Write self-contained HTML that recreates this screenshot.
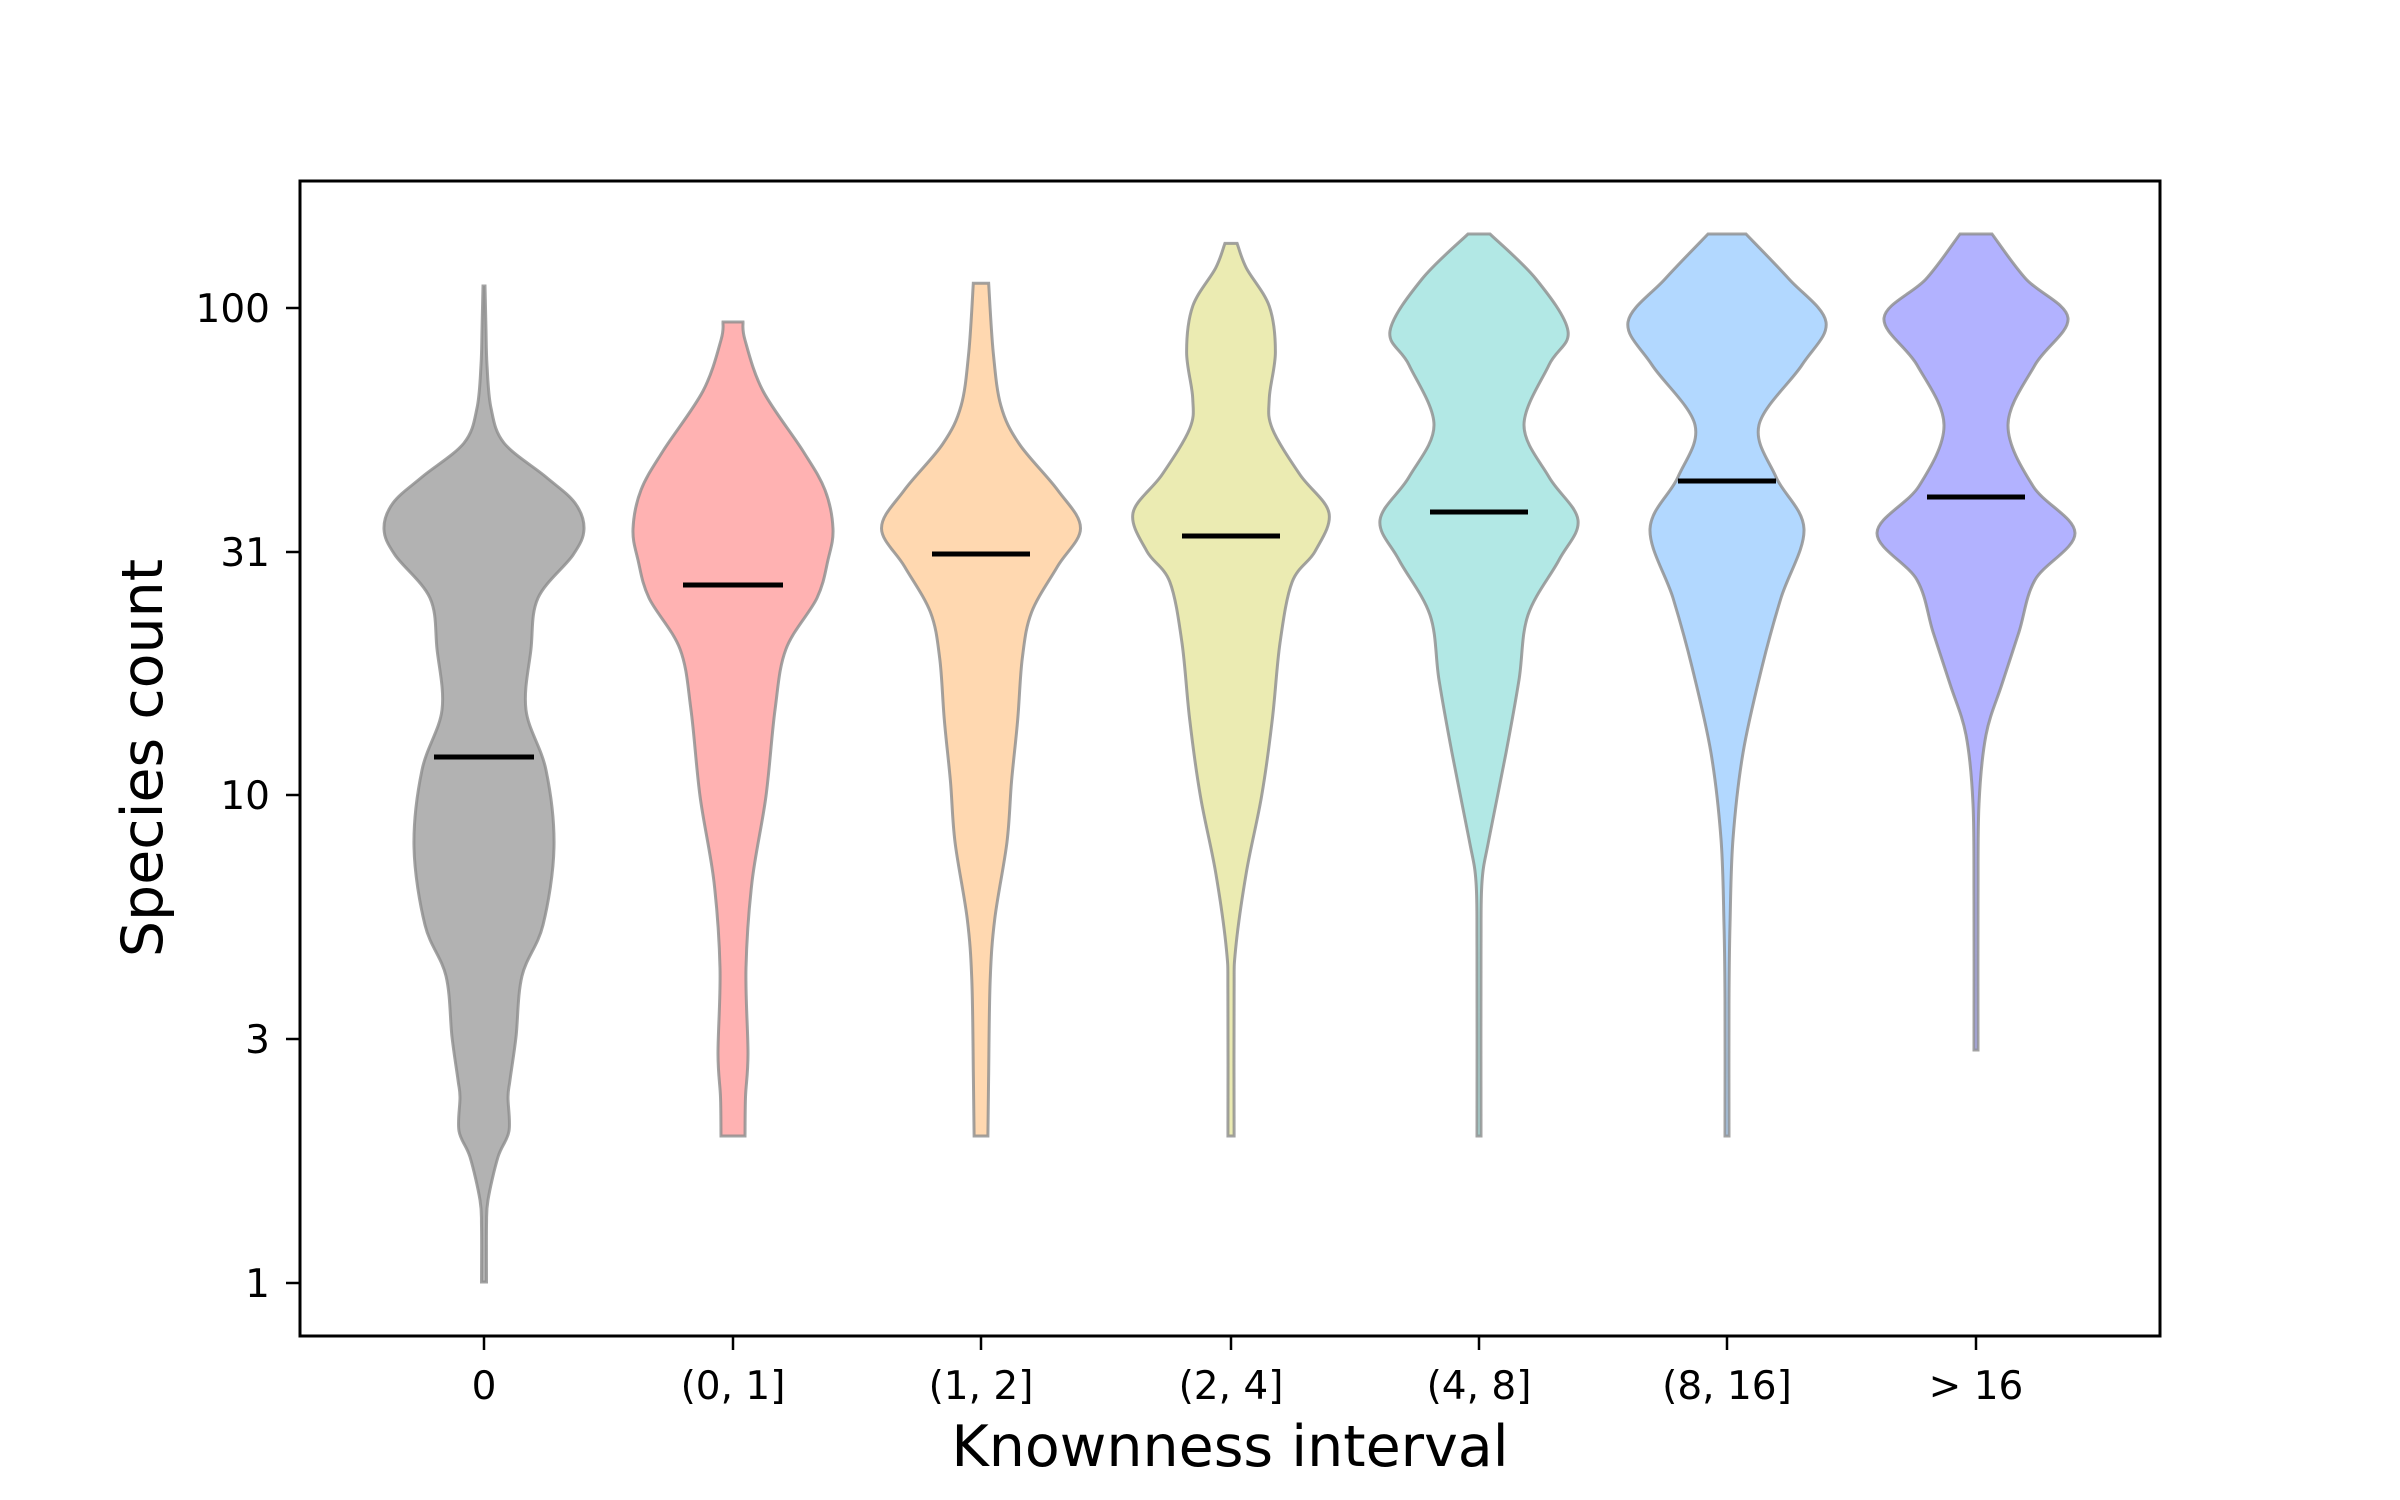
<!DOCTYPE html>
<html><head><meta charset="utf-8"><style>
html,body{margin:0;padding:0;background:#fff;}
svg{display:block;}
text{font-family:"DejaVu Sans","Liberation Sans",sans-serif;fill:#000;}
</style></head><body>
<svg id="s" width="2400" height="1500" viewBox="0 0 2400 1500" xmlns="http://www.w3.org/2000/svg">
<rect width="2400" height="1500" fill="#fff"/>
<g id="v"></g>
<rect x="300" y="181" width="1860" height="1155" fill="none" stroke="#000" stroke-width="3"/>
<g stroke="#000" stroke-width="2.5">
<line x1="286" y1="308" x2="300" y2="308"/>
<line x1="286" y1="552" x2="300" y2="552"/>
<line x1="286" y1="795" x2="300" y2="795"/>
<line x1="286" y1="1039" x2="300" y2="1039"/>
<line x1="286" y1="1283" x2="300" y2="1283"/>
<line x1="484" y1="1336" x2="484" y2="1350"/>
<line x1="733" y1="1336" x2="733" y2="1350"/>
<line x1="981" y1="1336" x2="981" y2="1350"/>
<line x1="1231" y1="1336" x2="1231" y2="1350"/>
<line x1="1479" y1="1336" x2="1479" y2="1350"/>
<line x1="1727" y1="1336" x2="1727" y2="1350"/>
<line x1="1976" y1="1336" x2="1976" y2="1350"/>
</g>
<g font-size="39" text-anchor="end">
<text x="270" y="322">100</text>
<text x="270" y="566">31</text>
<text x="270" y="809">10</text>
<text x="270" y="1053">3</text>
<text x="270" y="1297">1</text>
</g>
<g font-size="39" text-anchor="middle">
<text x="484" y="1399">0</text>
<text x="733" y="1399">(0, 1]</text>
<text x="981" y="1399">(1, 2]</text>
<text x="1231" y="1399">(2, 4]</text>
<text x="1479" y="1399">(4, 8]</text>
<text x="1727" y="1399">(8, 16]</text>
<text x="1976" y="1399">&gt; 16</text>
</g>
<text x="1230" y="1466" font-size="57" text-anchor="middle">Knownness interval</text>
<text transform="translate(162,758) rotate(-90)" font-size="57" text-anchor="middle">Species count</text>
</svg>
<script>
var D=1.531;
function dp(a){return a.map(function(p){return [p[0]*D,p[1]*D];});}
var V=[
{c:484,f:"#b2b2b2",m:[757,50],p:[[286,1],[330,2],[365,3],[408,7],[443,20],[477,62],[503,91],[529,100],[555,89],[598,54],[649,47],[710,42],[770,62],[847,70],[925,59],[976,38],[1037,32],[1080,26],[1097,24],[1131,25],[1157,14],[1200,4],[1226,2.5],[1282,2.5]]},
{c:733,f:"#ffb2b2",m:[585,50],p:[[322,10],[340,12],[391,30],[451,70],[490,92],[529,100],[560,95],[598,84],[649,53],[710,42],[796,33],[882,19],[968,13],[1054,15],[1097,12.5],[1136,12]]},
{c:981,f:"#ffd8b0",m:[554,49],p:dp([[185,5],[230,8],[265,13],[290,25],[320,50],[345,65],[370,50],[400,33],[430,27],[470,24],[510,20],[550,17],[600,9],[640,6],[700,5],[742,4.5]])},
{c:1231,f:"#ebebb2",m:[536,49],p:dp([[159,4],[175,10],[200,25],[230,29],[260,25],[280,27],[310,45],[335,64],[360,55],[380,40],[420,32],[470,27],[520,20],[570,10],[620,3],[650,2],[742,2]])},
{c:1479,f:"#b2e8e5",m:[512,49],p:[[234,11],[279,57],[331,89],[365,70],[425,45],[477,70],[520,99],[560,80],[615,49],[680,40],[753,27],[839,10],[882,3],[950,2],[1136,2]]},
{c:1727,f:"#b2d8ff",m:[481,49],p:[[234,19],[279,62],[322,99],[365,75],[425,32],[477,49],[529,77],[598,54],[667,35],[753,16],[839,6],[925,3],[1000,2],[1136,2]]},
{c:1976,f:"#b2b2ff",m:[497,49],p:[[234,16],[279,50],[318,92],[365,59],[425,32],[486,57],[533,99],[580,59],[632,43],[684,26],[735,10],[804,3],[900,2],[1050,2]]}
];
function cr(pts){var s="M"+pts[0][0]+","+pts[0][1];for(var i=0;i<pts.length-1;i++){var p0=pts[i-1]||pts[i],p1=pts[i],p2=pts[i+1],p3=pts[i+2]||p2;
var c1=[p1[0]+(p2[0]-p0[0])/6,p1[1]+(p2[1]-p0[1])/6],c2=[p2[0]-(p3[0]-p1[0])/6,p2[1]-(p3[1]-p1[1])/6];
s+=" C"+c1[0].toFixed(1)+","+c1[1].toFixed(1)+" "+c2[0].toFixed(1)+","+c2[1].toFixed(1)+" "+p2[0].toFixed(1)+","+p2[1].toFixed(1);}return s;}
var g=document.getElementById("v"),h="";
V.forEach(function(v){
var R=v.p.map(function(q){return [v.c+q[1],q[0]];});
var L=v.p.slice().reverse().map(function(q){return [v.c-q[1],q[0]];});
var d=cr(R)+" L"+L[0][0]+","+L[0][1]+" "+cr(L).slice(1).replace(/^[^C]*/,"")+" Z";
h+='<path d="'+d+'" fill="'+v.f+'" stroke="#8c8c8c" stroke-opacity="0.8" stroke-width="3"/>';
h+='<line x1="'+(v.c-v.m[1])+'" y1="'+v.m[0]+'" x2="'+(v.c+v.m[1])+'" y2="'+v.m[0]+'" stroke="#000" stroke-width="5"/>';
});
g.innerHTML=h;
</script>
</body></html>
